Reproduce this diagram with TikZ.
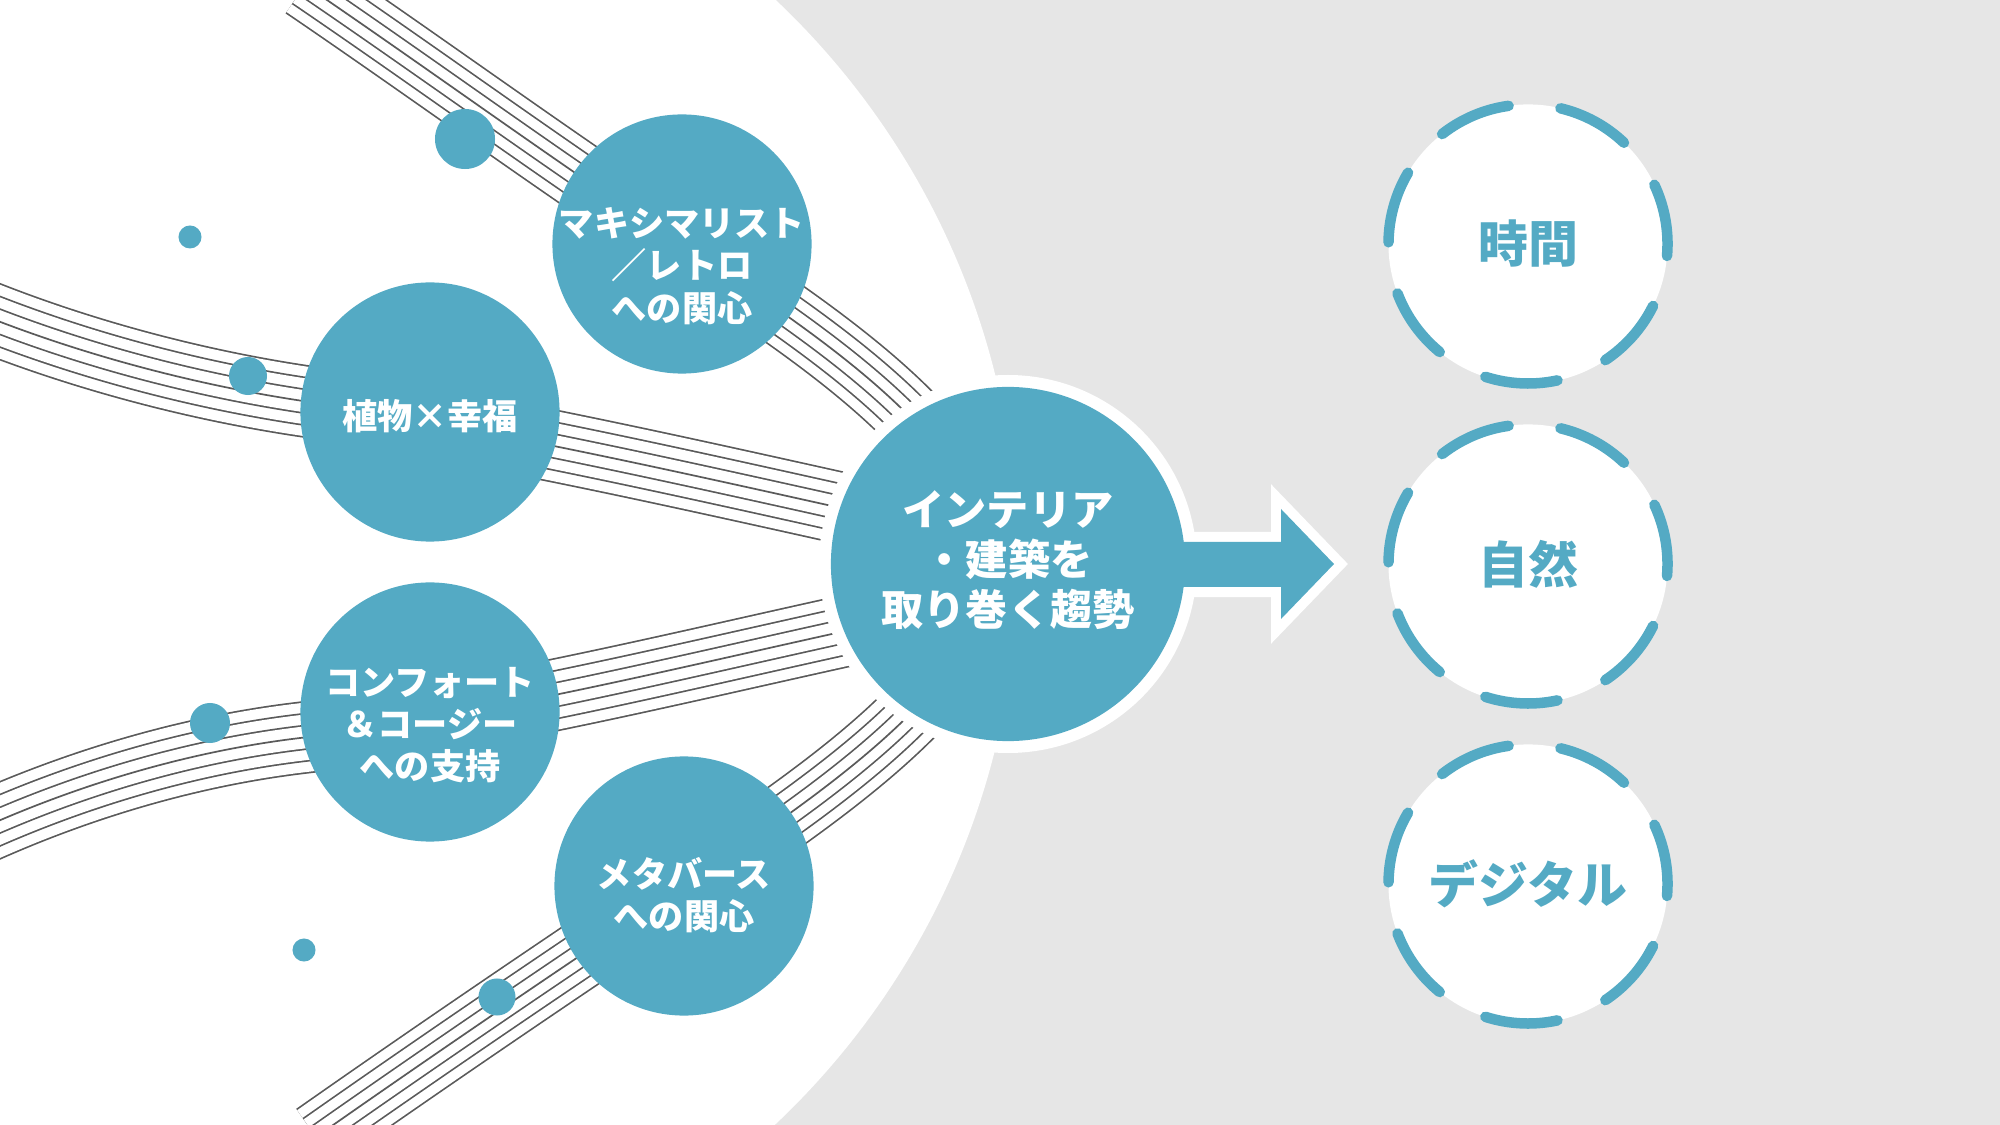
\documentclass[tikz,border=0pt]{standalone}
\usepackage{fontspec}
\newfontfamily\jp{Noto Sans CJK JP}
\definecolor{tealc}{RGB}{84,170,196}
\definecolor{bggray}{RGB}{230,230,230}
\definecolor{linegray}{RGB}{90,90,90}
% bundle of 7 parallel lines: #1 spacing in cm (number), #2 path
\newcommand\strand[2]{%
  \foreach \k in {3,2,1}{%
    \draw[linegray, line width=2*\k*#1cm+0.017cm] #2;
    \draw[white, line width=2*\k*#1cm-0.017cm] #2;
  }%
  \draw[linegray, line width=0.017cm] #2;
}
\begin{document}
\begin{tikzpicture}[x=0.01cm, y=-0.01cm,
  bubble/.style={circle, fill=tealc, inner sep=0pt, minimum size=2.59cm},
  dot/.style={circle, fill=tealc, inner sep=0pt, minimum size=#1},
  smalltxt/.style={text=white, font=\jp\bfseries\fontsize{10}{12}\selectfont, align=center, inner sep=0pt},
  coretxt/.style={text=white, font=\jp\bfseries\fontsize{12}{14.2}\selectfont, align=center, inner sep=0pt},
  righttxt/.style={text=tealc, font=\jp\bfseries\fontsize{14.2}{17}\selectfont, inner sep=0pt},
  dashring/.style={draw=tealc, line width=0.105cm, line cap=round, dash pattern=on 0.7304cm off 0.5217cm},
  ringfill/.style={circle, fill=white, inner sep=0pt, minimum size=2.79cm}
]
\useasboundingbox (0,0) rectangle (2000,1125);
\fill[bggray] (0,0) rectangle (2000,1125);
\fill[white] (245,562) circle[radius=773];

% line bundles
\strand{0.112}{(305,-15) .. controls (430,70) and (560,165) .. (682,245) .. controls (772,304) and (855,360) .. (914,421)}
\strand{0.118}{(-20,314) .. controls (80,354) and (193,384.5) .. (303,401) .. controls (483,428) and (670,470) .. (850,510)}
\strand{0.118}{(-20,829) .. controls (80,784) and (190,751.2) .. (300,738) .. controls (480,716.4) and (670,669.6) .. (850,630)}
\strand{0.112}{(316,1137) .. controls (440,1050) and (570,962) .. (684,886) .. controls (774,826) and (855,770) .. (913,711)}

% small dots
\node[dot=0.60cm] (d1) at (465,139) {};
\node[dot=0.23cm] (d2) at (190,237) {};
\node[dot=0.38cm] (d3) at (248,376) {};
\node[dot=0.40cm] (d4) at (210,723) {};
\node[dot=0.23cm] (d5) at (304,950) {};
\node[dot=0.37cm] (d6) at (497,997) {};

% trend circles
\node[bubble] (c1) at (682,244) {};
\node[bubble] (c2) at (430,412) {};
\node[bubble] (c3) at (430,712) {};
\node[bubble] (c4) at (684,886) {};

% central circle with white ring and arrow
\fill[white] (1008,564) circle[radius=189];
\path[draw=white, fill=white, line width=0.20cm, line join=miter]
  (1100,542) -- (1281,542) -- (1281,509) -- (1334,564) -- (1281,619) -- (1281,587) -- (1100,587) -- cycle;
\fill[tealc]
  (1100,542) -- (1281,542) -- (1281,509) -- (1334,564) -- (1281,619) -- (1281,587) -- (1100,587) -- cycle;
\node[circle, fill=tealc, inner sep=0pt, minimum size=3.54cm] (core) at (1008,564) {};

% texts
\node[smalltxt] (t1) at (682,266) {マキシマリスト\\／レトロ\\への関心};
\node[smalltxt] (t2) at (430,416) {植物×幸福};
\node[smalltxt] (t3) at (430,725) {コンフォート\\＆コージー\\への支持};
\node[smalltxt] (t4) at (684,895) {メタバース\\への関心};
\node[coretxt] (tc) at (1008,560) {インテリア\\・建築を\\取り巻く趨勢};

% right dashed circles
\foreach \n/\yy/\txt in {r1/244/時間, r2/564/自然, r3/884/デジタル}{
  \node[ringfill] (\n) at (1528,\yy) {};
  \draw[dashring] (\n.center) ++(-128:139.5) arc[start angle=-128, end angle=232, radius=139.5];
  \node[righttxt] (\n t) at (1528,\yy) {\txt};
}
\end{tikzpicture}
\end{document}
